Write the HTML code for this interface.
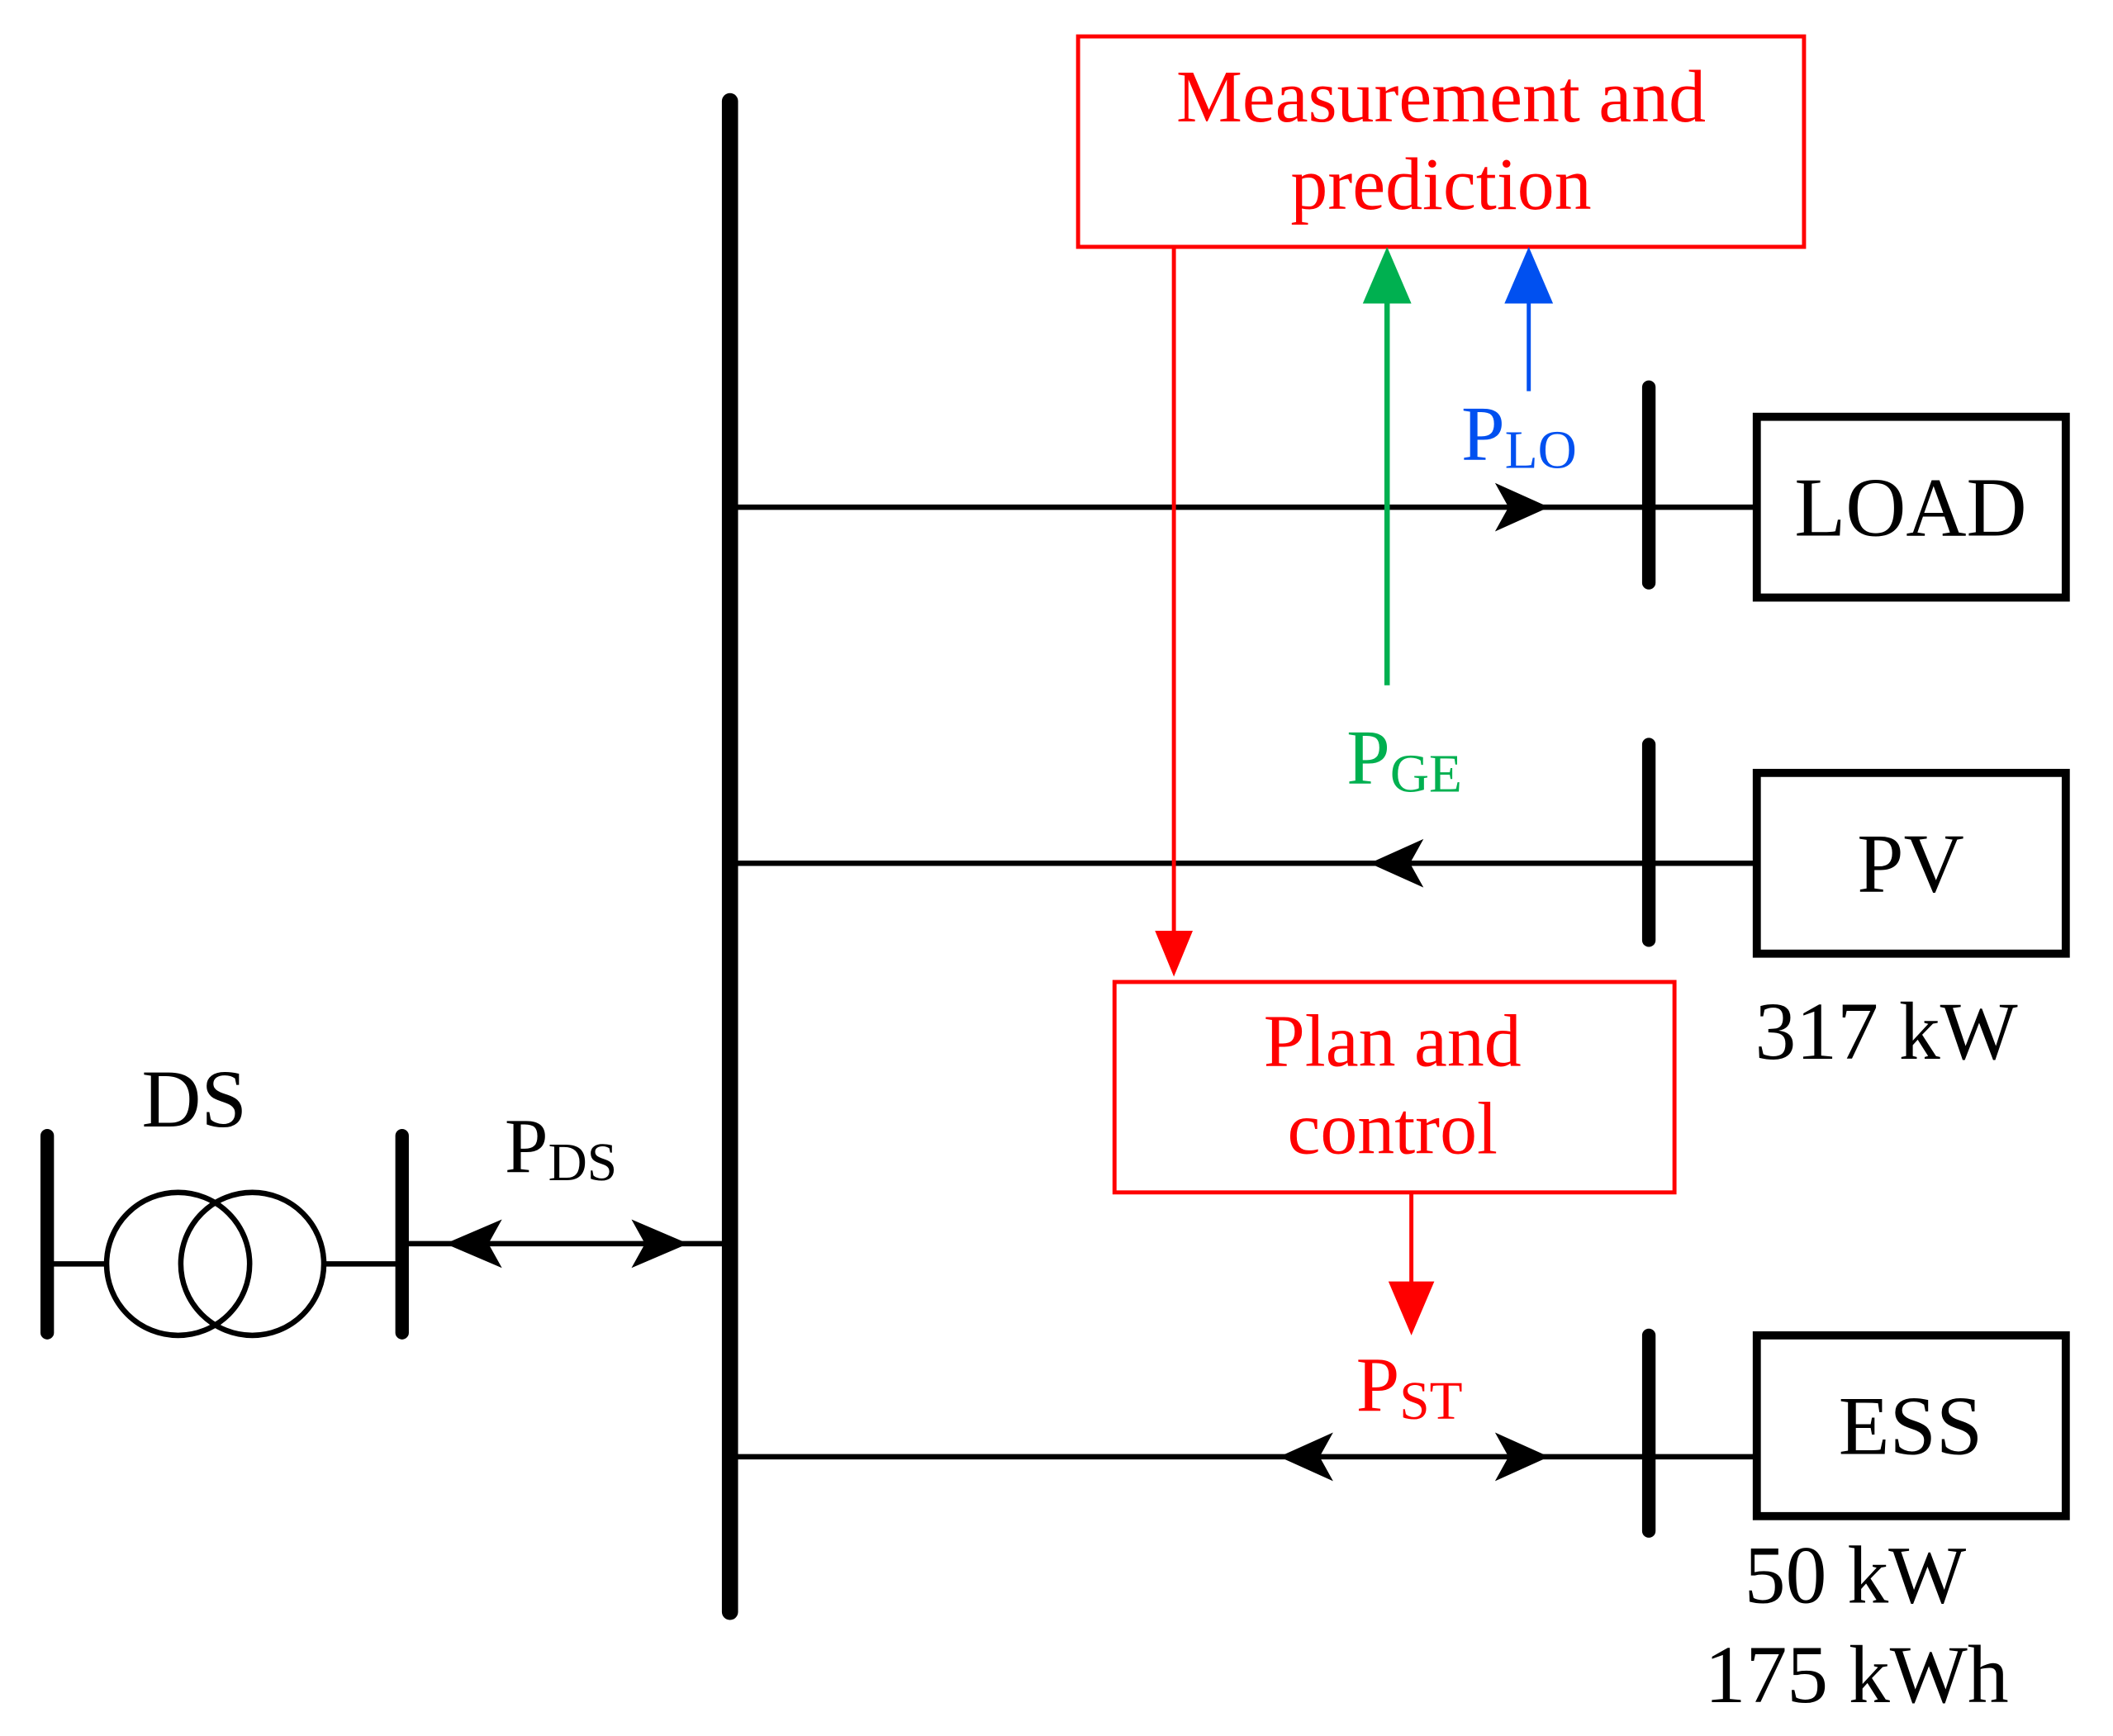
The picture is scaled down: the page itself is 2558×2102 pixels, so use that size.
<!DOCTYPE html>
<html><head><meta charset="utf-8"><style>
html,body{margin:0;padding:0;background:#fff;width:2558px;height:2102px;overflow:hidden}
svg{display:block}
text{font-family:"Liberation Serif",serif}
</style></head><body>
<svg width="2558" height="2102" viewBox="0 0 1566 1287" preserveAspectRatio="none" xmlns="http://www.w3.org/2000/svg">
<rect width="1566" height="1287" fill="#fff"/>
<g stroke="#000" fill="none" stroke-linecap="round">
<line x1="541" y1="75" x2="541" y2="1195" stroke-width="12"/>
<line x1="1222" y1="287" x2="1222" y2="432" stroke-width="10"/>
<line x1="1222" y1="552" x2="1222" y2="697" stroke-width="10"/>
<line x1="1222" y1="990" x2="1222" y2="1135" stroke-width="10"/>
<line x1="35" y1="842" x2="35" y2="988" stroke-width="10"/>
<line x1="298" y1="842" x2="298" y2="988" stroke-width="10"/>
</g>
<g stroke="#000" stroke-width="4" fill="none">
<line x1="541" y1="376" x2="1302" y2="376"/>
<line x1="541" y1="640" x2="1302" y2="640"/>
<line x1="541" y1="1080" x2="1302" y2="1080"/>
<line x1="298" y1="922" x2="541" y2="922"/>
<line x1="35" y1="937" x2="80" y2="937"/>
<line x1="240" y1="937" x2="298" y2="937"/>
<circle cx="132" cy="937" r="53"/>
<circle cx="187" cy="937" r="53"/>
</g>
<g stroke="#000" stroke-width="6" fill="none">
<rect x="1302" y="309" width="229" height="134"/>
<rect x="1302" y="573" width="229" height="134"/>
<rect x="1302" y="990" width="229" height="134"/>
</g>
<g fill="#000">
<polygon points="1148,376 1108,358 1118,376 1108,394"/>
<polygon points="1015,640 1055,622 1045,640 1055,658"/>
<polygon points="948,1080 988,1062 978,1080 988,1098"/>
<polygon points="1148,1080 1108,1062 1118,1080 1108,1098"/>
<polygon points="330,922 372,904 362,922 372,940"/>
<polygon points="510,922 468,904 478,922 468,940"/>
</g>
<g fill="none" stroke="#f00" stroke-width="3">
<rect x="799" y="27" width="538" height="156"/>
<rect x="826" y="728" width="415" height="156"/>
<line x1="870" y1="183" x2="870" y2="700"/>
<line x1="1046" y1="884" x2="1046" y2="960"/>
</g>
<polygon points="870,724 856,690 884,690" fill="#f00"/>
<polygon points="1046,990 1029,950 1063,950" fill="#f00"/>
<line x1="1028" y1="508" x2="1028" y2="215" stroke="#00b050" stroke-width="4"/>
<polygon points="1028,183 1010,225 1046,225" fill="#00b050"/>
<line x1="1133" y1="290" x2="1133" y2="215" stroke="#0050f0" stroke-width="3"/>
<polygon points="1133,183 1115,225 1151,225" fill="#0050f0"/>
<g font-size="55" text-anchor="middle" fill="#f00">
<text x="1068" y="90">Measurement and</text>
<text x="1068" y="155">prediction</text>
<text x="1032" y="790">Plan and</text>
<text x="1032" y="855">control</text>
</g>
<g font-size="62" text-anchor="middle" fill="#000">
<text x="1416" y="397">LOAD</text>
<text x="1416" y="661">PV</text>
<text x="1416" y="1078">ESS</text>
</g>
<g font-size="61" text-anchor="middle" fill="#000">
<text x="1398" y="785">317 kW</text>
<text x="1375" y="1188">50 kW</text>
<text x="1376" y="1262">175 kWh</text>
<text x="144" y="835">DS</text>
</g>
<text x="1083" y="341" font-size="58" fill="#0050f0">P<tspan font-size="40" dy="6">LO</tspan></text>
<text x="998" y="581" font-size="58" fill="#00b050">P<tspan font-size="40" dy="6">GE</tspan></text>
<text x="1005" y="1046" font-size="58" fill="#f00">P<tspan font-size="40" dy="6">ST</tspan></text>
<text x="374" y="869" font-size="58" fill="#000">P<tspan font-size="40" dy="6">DS</tspan></text>
</svg>
</body></html>
